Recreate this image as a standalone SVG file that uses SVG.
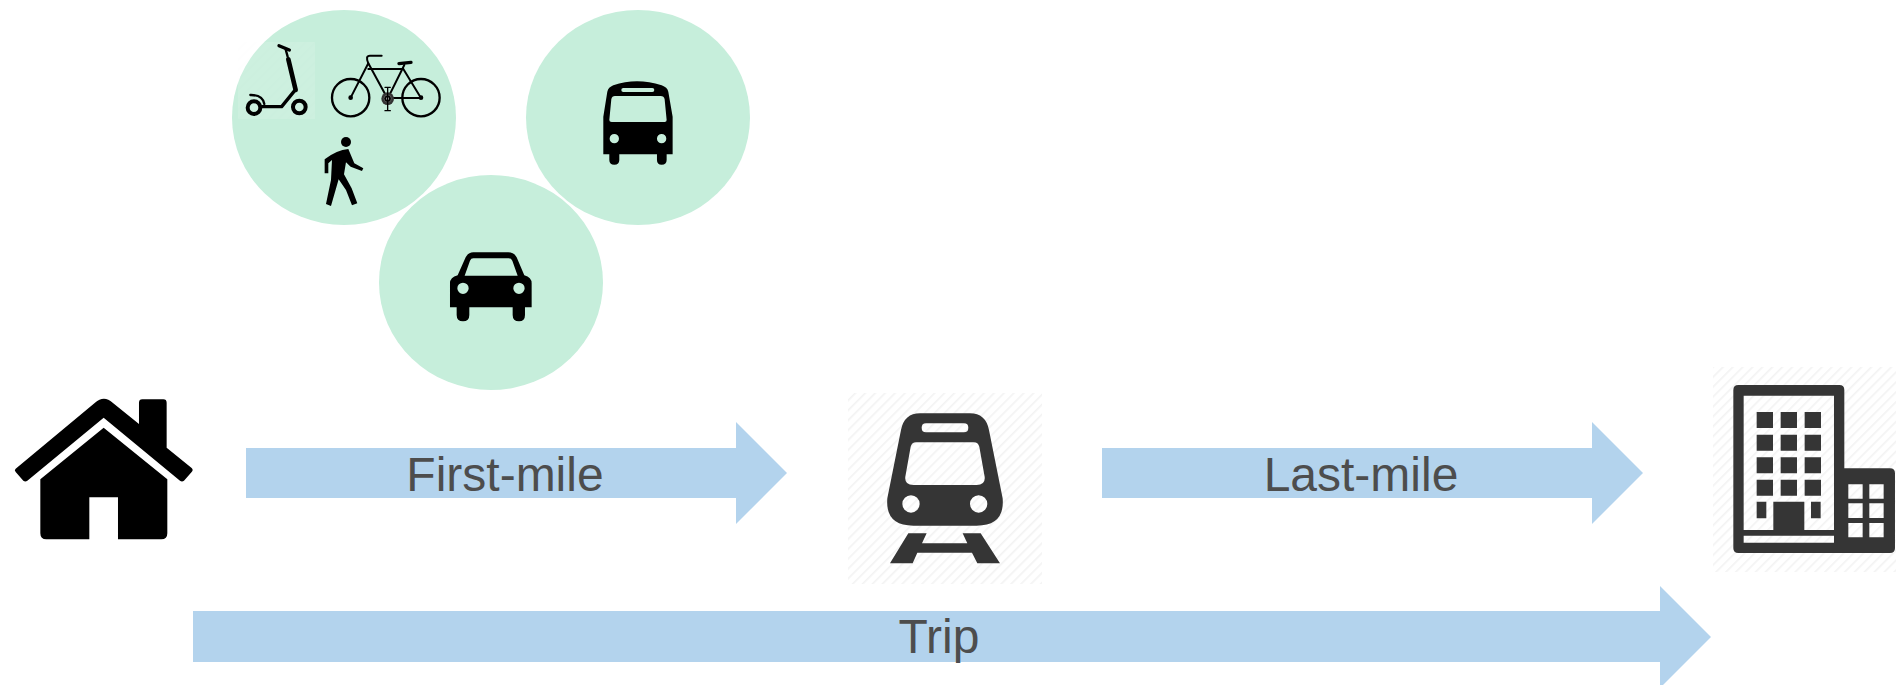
<svg xmlns="http://www.w3.org/2000/svg" width="1896" height="685" viewBox="0 0 1896 685">
<style>
.bubble{fill:#c6eedb}
.flow{fill:#b3d3ed}
.label{font-family:"Liberation Sans",Arial,sans-serif;font-size:48px;fill:#4d4d4d;text-anchor:middle}
.blk{fill:#000}
.drk{fill:#353535}
.s{fill:none;stroke:#000;stroke-linecap:round;stroke-linejoin:round}
</style>
<defs>
<pattern id="hatch" width="7" height="7" patternUnits="userSpaceOnUse" patternTransform="rotate(-45)">
<rect width="7" height="7" fill="#fff"/>
<rect width="7" height="1.6" fill="#f3f3f3"/>
</pattern>
</defs>
<rect width="1896" height="685" fill="#fff"/>
<g id="node-active">
<ellipse class="bubble" cx="344" cy="117.5" rx="112" ry="107.5"/>
<rect x="238" y="42" width="77" height="77" fill="url(#hatch)" opacity="0.12"/>
<g id="scooter" transform="translate(220 0) scale(.3333)">
<path class="s" stroke-width="10" d="M177,137L208,150"/>
<path class="s" stroke-width="7" d="M197,148L203,170"/>
<path class="s" stroke-width="14" stroke-linecap="butt" d="M205,178L227,270"/>
<path class="s" stroke-width="10" d="M224,272L185,320L125,320"/>
<circle class="s" cx="238" cy="321" r="19" stroke-width="12"/>
<circle class="s" cx="102" cy="323" r="19" stroke-width="12"/>
<path class="s" stroke-width="7" d="M91,285Q128,284 133,312"/>
</g>
<g id="bike" transform="translate(220 0) scale(.3333)">
<circle class="s" cx="392" cy="293" r="56" stroke-width="7"/>
<circle class="s" cx="603" cy="293" r="56" stroke-width="7"/>
<path class="s" stroke-width="6" d="M392,293L445,190L503,296M445,207H550M503,296L553,195M503,294H603L550,207"/>
<path class="s" stroke-width="6" d="M445,190Q435,167 450,167H485"/>
<path class="s" stroke-width="10" d="M537,191L573,187"/>
<circle cx="503" cy="296" r="19" fill="#333"/>
<circle cx="503" cy="296" r="11" fill="#000" stroke="#777" stroke-width="2"/>
<circle cx="503" cy="296" r="4" fill="#ddd"/>
<path class="s" stroke-width="4" d="M503,262V332M495,262H511M495,332H511"/>
<circle class="blk" cx="392" cy="293" r="7"/>
<circle class="blk" cx="603" cy="293" r="7"/>
</g>
<g id="walker" transform="translate(220 0) scale(.3333)">
<circle class="blk" cx="378" cy="426" r="15"/>
<path class="blk" d="M314,478Q350,450 385,447L403,490L430,505L426,513L392,500L378,487L372,523L395,565L412,610L396,616L378,570L356,538L333,618L318,612L333,540L336,480L325,490L325,520L314,520Z"/>
</g>
</g>
<g id="node-bus">
<ellipse class="bubble" cx="638" cy="117.5" rx="112" ry="107.5"/>
<g transform="translate(370 0) scale(.3333)">
<path class="blk" fill-rule="evenodd" d="M700,463L700,350L712,275Q715,262 730,256Q800,232 875,256Q892,262 895,275L908,350L908,463L890,463L890,480Q890,494 875,494Q861,494 861,480L861,463L748,463L748,480Q748,494 733,494Q718,494 718,480L718,463Z
M735,288L872,288Q882,288 884,298L890,360Q890,366 884,366L725,366Q718,366 718,360L724,298Q726,288 735,288Z
M760,264H847Q853,264 853,270Q853,276 847,276H760Q754,276 754,270Q754,264 760,264Z
M719,416a14,14 0 1,0 28,0a14,14 0 1,0 -28,0Z
M861,416a14,14 0 1,0 28,0a14,14 0 1,0 -28,0Z"/>
</g>
</g>
<g id="node-car">
<ellipse class="bubble" cx="491" cy="282.5" rx="112" ry="107.5"/>
<g transform="translate(370 0) scale(.3333)">
<path class="blk" fill-rule="evenodd" d="M240,922L240,850Q240,832 263,826L287,772Q295,757 310,757L415,757Q432,757 440,772L463,826Q485,832 485,850L485,922L465,922L465,945Q465,964 447,964Q428,964 428,945L428,922L298,922L298,945Q298,964 279,964Q260,964 260,945L260,922Z
M310,775L416,775Q424,775 427,782L443,827L284,827L300,782Q303,775 310,775Z
M262,865a17,17 0 1,0 34,0a17,17 0 1,0 -34,0Z
M430,865a17,17 0 1,0 34,0a17,17 0 1,0 -34,0Z"/>
</g>
</g>
<g id="node-home" transform="translate(0 380) scale(.3333)">
<path class="blk" d="M47,266L285,68Q312,45 338,68L417,132L417,68Q417,58 427,58L490,58Q500,58 500,68L500,203L575,264Q581,270 575,276L552,302Q546,307 540,302L311,113L82,302Q76,307 70,302L47,276Q42,270 47,266Z"/>
<path class="blk" d="M311,143L502,298L502,460Q502,478 484,478L354,478L354,352L268,352L268,478L139,478Q121,478 121,460L121,298Z"/>
</g>
<g id="node-station">
<rect x="848" y="393" width="194" height="191" fill="url(#hatch)"/>
<g transform="translate(840 380) scale(.3333)">
<path class="drk" fill-rule="evenodd" d="M240,100L390,100Q437,100 447,150L488,355Q495,437 410,437L220,437Q135,437 142,355L183,150Q193,100 240,100Z
M258,130H372Q385,130 385,143Q385,157 372,157H258Q245,157 245,143Q245,130 258,130Z
M228,187L402,187Q414,187 418,200L434,290Q437,315 410,315L220,315Q193,315 196,290L212,200Q216,187 228,187Z
M187,372a26,26 0 1,0 52,0a26,26 0 1,0 -52,0Z
M390,372a26,26 0 1,0 52,0a26,26 0 1,0 -52,0Z"/>
<path class="drk" d="M205,460L260,460L246,490L382,490L368,460L422,460L480,550L412,550L396,518L232,518L218,550L150,550Z"/>
</g>
</g>
<g id="node-office">
<rect x="1713" y="367" width="183" height="205" fill="url(#hatch)"/>
<g transform="translate(1700 360) scale(.3333)">
<path class="drk" fill-rule="evenodd" d="M115,75L418,75Q433,75 433,90L433,325L570,325Q585,325 585,340L585,565Q585,579 570,579L115,579Q100,579 100,565L100,90Q100,75 115,75Z
M131,107L402,107L402,510L313,510L313,425L220,425L220,510L131,510Z
M131,527H402V548H131Z
M445,373h43v43h-43ZM508,373h43v43h-43ZM445,430h43v44h-43ZM508,430h43v44h-43ZM445,489h43v43h-43ZM508,489h43v43h-43Z"/>
<path class="drk" d="M170,156h49v48h-49ZM242,156h49v48h-49ZM314,156h49v48h-49ZM170,224h49v48h-49ZM242,224h49v48h-49ZM314,224h49v48h-49ZM170,292h49v48h-49ZM242,292h49v48h-49ZM314,292h49v48h-49ZM170,359h49v48h-49ZM242,359h49v48h-49ZM314,359h49v48h-49ZM170,425h29v50h-29ZM333,425h29v50h-29Z"/>
</g>
</g>
<g id="connectors">
<polygon class="flow" points="246,448 736,448 736,422 787,473 736,524 736,498 246,498"/>
<polygon class="flow" points="1102,448 1592,448 1592,422 1643,473 1592,524 1592,498 1102,498"/>
<polygon class="flow" points="193,611 1660,611 1660,586 1711,637 1660,688 1660,662 193,662"/>
<text class="label" x="505" y="491">First-mile</text>
<text class="label" x="1361" y="491">Last-mile</text>
<text class="label" x="939" y="653">Trip</text>
</g>
</svg>
